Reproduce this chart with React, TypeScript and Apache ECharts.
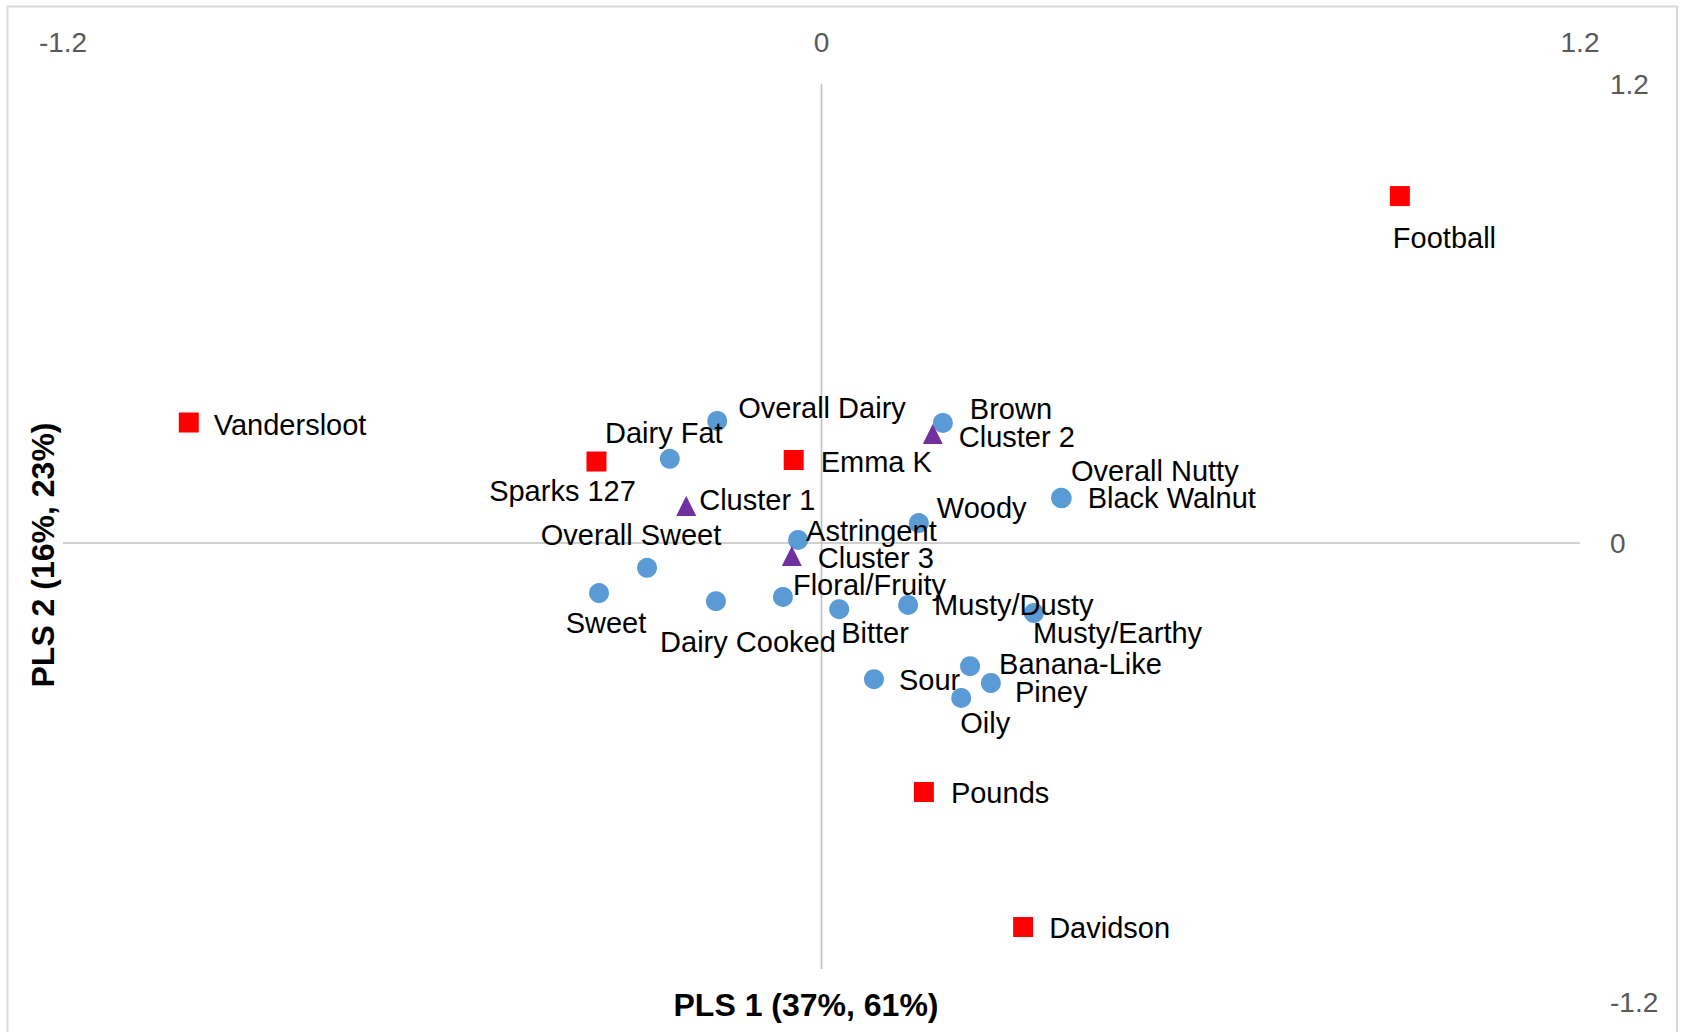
import React, { useEffect, useRef } from "react";
import * as echarts from "echarts";

// ---- data ----
const sampleNames = ["Football", "Vandersloot", "Sparks 127", "Emma K", "Pounds", "Davidson"];
const sampleX = [0.915, -1.001, -0.356, -0.044, 0.162, 0.319];
const sampleY = [0.907, 0.315, 0.213, 0.217, -0.651, -1.004];

const clusterNames = ["Cluster 1", "Cluster 2", "Cluster 3"];
const clusterX = [-0.214, 0.176, -0.047];
const clusterY = [0.097, 0.285, -0.034];

const attrNames = [
  "Overall Dairy", "Dairy Fat", "Brown", "Overall Nutty", "Black Walnut", "Woody",
  "Astringent", "Overall Sweet", "Sweet", "Dairy Cooked", "Floral/Fruity", "Bitter",
  "Musty/Dusty", "Musty/Earthy", "Banana-Like", "Piney", "Sour", "Oily",
];
const attrX = [-0.165, -0.24, 0.192, 0.379, 0.38, 0.154, -0.037, -0.276, -0.352, -0.167, -0.061, 0.028, 0.137, 0.336, 0.235, 0.268, 0.083, 0.221];
const attrY = [0.319, 0.22, 0.314, 0.118, 0.117, 0.052, 0.008, -0.065, -0.131, -0.152, -0.141, -0.173, -0.162, -0.183, -0.322, -0.366, -0.356, -0.405];

const axisMin = -1.2;
const axisMax = 1.2;
const axisStep = 1.2;
const xTitle = "PLS 1 (37%, 61%)";
const yTitle = "PLS 2 (16%, 23%)";

// ---- layout (label placement relative to marker: dx, dy, align) ----
const labelPlacement: Record<string, [number, number, string]> = {
  "Football": [-7, 42, "left"],
  "Vandersloot": [25, 2, "left"],
  "Sparks 127": [-34, 29, "center"],
  "Emma K": [27, 2, "left"],
  "Pounds": [27, 1, "left"],
  "Davidson": [26, 1, "left"],
  "Cluster 1": [13, -6, "left"],
  "Cluster 2": [26, 3, "left"],
  "Cluster 3": [26, 2, "left"],
  "Overall Dairy": [21, -13, "left"],
  "Dairy Fat": [-6, -26, "center"],
  "Brown": [27, -14, "left"],
  "Overall Nutty": [10, -27, "left"],
  "Black Walnut": [26, 0, "left"],
  "Woody": [18, -15, "left"],
  "Astringent": [8, -9, "left"],
  "Overall Sweet": [-16, -33, "center"],
  "Sweet": [7, 30, "center"],
  "Dairy Cooked": [32, 41, "center"],
  "Floral/Fruity": [10, -12, "left"],
  "Bitter": [2, 24, "left"],
  "Musty/Dusty": [26, 0, "left"],
  "Musty/Earthy": [-1, 20, "left"],
  "Banana-Like": [29, -2, "left"],
  "Piney": [24, 9, "left"],
  "Sour": [25, 1, "left"],
  "Oily": [-1, 25, "left"],
};

const FONT = "'Liberation Sans', Arial, sans-serif";

function buildData(names: string[], xs: number[], ys: number[]) {
  return names.map((n, i) => {
    const p = labelPlacement[n] || [20, 0, "left"];
    return {
      name: n,
      value: [xs[i], ys[i]],
      label: {
        show: true,
        position: "inside",
        offset: [p[0], p[1]],
        align: p[2],
        verticalAlign: "middle",
        formatter: "{b}",
        color: "#000",
        fontSize: 29,
        fontFamily: FONT,
      },
    };
  });
}

export default function App() {
  const ref = useRef<HTMLDivElement>(null);
  useEffect(() => {
    if (!ref.current) return;
    const chart = echarts.init(ref.current, null, { renderer: "svg" });
    const axisLabel = { fontSize: 28, color: "#595959", fontFamily: FONT };
    chart.setOption({
      animation: false,
      backgroundColor: "#fff",
      grid: { left: 63, right: 102, top: 84, bottom: 30, containLabel: false },
      xAxis: {
        type: "value",
        position: "top",
        min: axisMin,
        max: axisMax,
        interval: axisStep,
        axisLine: { show: false },
        axisTick: { show: false },
        splitLine: { show: false },
        axisLabel: { ...axisLabel, margin: 28 },
      },
      yAxis: {
        type: "value",
        position: "right",
        min: axisMin,
        max: axisMax,
        interval: axisStep,
        axisLine: { show: false },
        axisTick: { show: false },
        splitLine: { show: false },
        axisLabel: { ...axisLabel, margin: 30 },
      },
      series: [
        {
          type: "line",
          data: [[axisMin, 0], [axisMax, 0]],
          symbol: "none",
          silent: true,
          z: 1,
          lineStyle: { color: "#c0c0c0", width: 1.6 },
        },
        {
          type: "line",
          data: [[0, axisMax], [0, axisMin]],
          symbol: "none",
          silent: true,
          z: 1,
          lineStyle: { color: "#c0c0c0", width: 1.6 },
        },
        {
          type: "scatter",
          name: "Attributes",
          symbol: "circle",
          symbolSize: 20,
          itemStyle: { color: "#5B9BD5", opacity: 1 },
          data: buildData(attrNames, attrX, attrY),
          z: 3,
        },
        {
          type: "scatter",
          name: "Samples",
          symbol: "rect",
          symbolSize: 20,
          itemStyle: { color: "#FF0000", opacity: 1 },
          data: buildData(sampleNames, sampleX, sampleY),
          z: 4,
        },
        {
          type: "scatter",
          name: "Clusters",
          symbol: "triangle",
          symbolSize: 20,
          itemStyle: { color: "#7030A0", opacity: 1 },
          data: buildData(clusterNames, clusterX, clusterY),
          z: 5,
        },
      ],
      graphic: [
        {
          type: "rect",
          z: 0,
          silent: true,
          shape: { x: 7.5, y: 6.5, width: 1669.5, height: 1100 },
          style: { fill: "none", stroke: "#d9d9d9", lineWidth: 2 },
        },
        {
          type: "rect",
          z: 100,
          silent: true,
          shape: { x: 660, y: 969, width: 300, height: 63 },
          style: { fill: "#fff" },
        },
        {
          type: "text",
          z: 101,
          x: 806,
          y: 1005,
          style: {
            text: xTitle,
            font: `bold 32px ${FONT}`,
            fill: "#000",
            align: "center",
            verticalAlign: "middle",
          },
        },
        {
          type: "text",
          z: 101,
          x: 43,
          y: 555,
          rotation: Math.PI / 2,
          style: {
            text: yTitle,
            font: `bold 32px ${FONT}`,
            fill: "#000",
            align: "center",
            verticalAlign: "middle",
          },
        },
      ],
    });
    return () => chart.dispose();
  }, []);
  return (
    <div
      ref={ref}
      style={{ position: "absolute", left: 0, top: 0, width: 1682, height: 1032 }}
    />
  );
}
